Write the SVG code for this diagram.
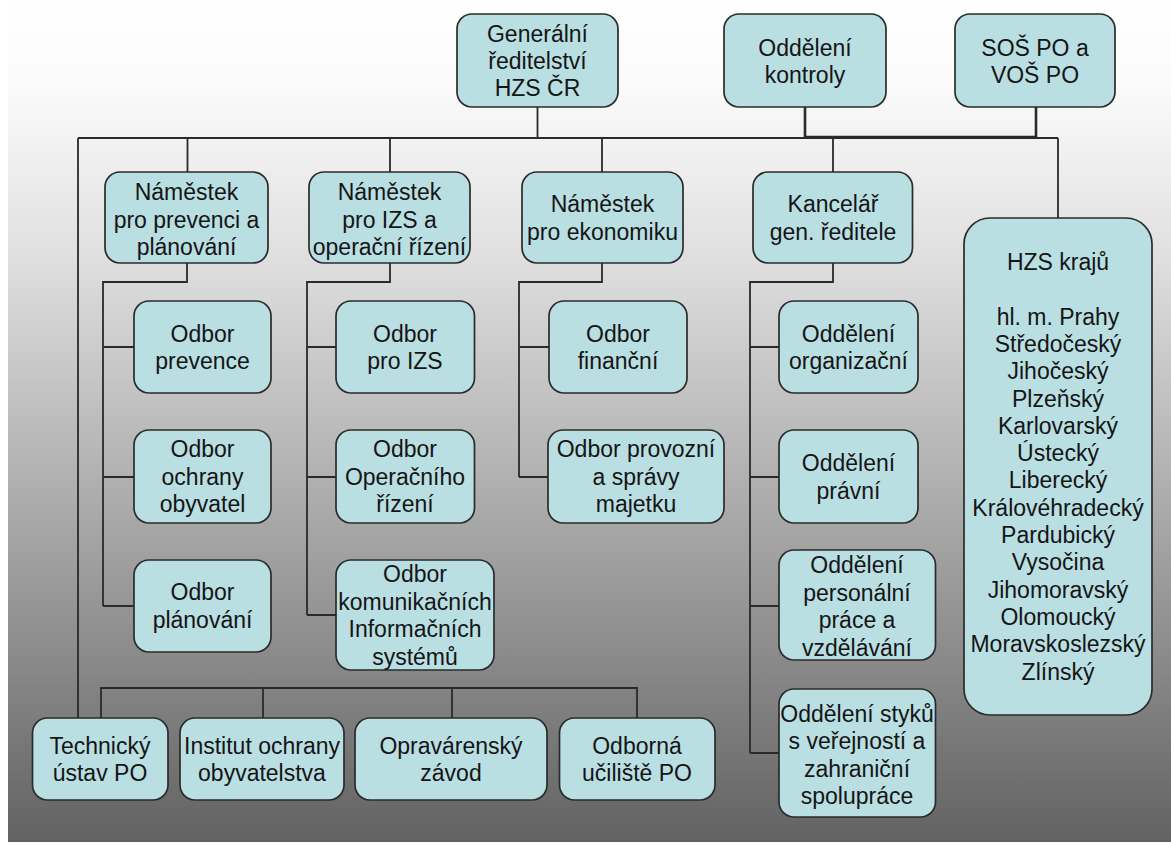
<svg xmlns="http://www.w3.org/2000/svg" width="1171" height="843" viewBox="0 0 1171 843">
<defs>
<linearGradient id="bg" x1="0" y1="0" x2="0" y2="1">
<stop offset="0" stop-color="#ffffff"/>
<stop offset="0.1" stop-color="#fbfbfb"/>
<stop offset="0.3" stop-color="#e0e0e0"/>
<stop offset="0.65" stop-color="#a2a2a2"/>
<stop offset="1" stop-color="#626262"/>
</linearGradient>
<style>
.box{fill:#b9dfe3;stroke:#2b2b2b;stroke-width:1.7}
.t{font-family:"Liberation Sans",Arial,sans-serif;font-size:23px;fill:#151515;text-anchor:middle}
.c{fill:none;stroke:#2a2a2a;stroke-width:1.8}
</style>
</defs>
<rect x="0" y="0" width="1171" height="843" fill="#ffffff"/>
<rect x="8" y="0" width="1163" height="842" fill="url(#bg)"/>

<g id="connectors" class="c">
<path d="M537.5 107V138"/>
<path d="M78 138H1058"/>
<path d="M78 138V718"/>
<path d="M187.5 138V172M390 138V172M602 138V172M833 138V172"/>
<path d="M1058 138V218"/>
<path d="M805 107V137H1036V107" style="stroke-width:2.6"/>
<path d="M187 263V282H103V606M103 347H134M103 477H134M103 606H134"/>
<path d="M390 263V282H307V615M307 347H336M307 477H336M307 615H336"/>
<path d="M602 263V282H519V477M519 347H549M519 477H548"/>
<path d="M833 263V282H750V753M750 347H779M750 477H779M750 606H779M750 753H779"/>
<path d="M101 718V688H637V718M263 688V718M452 688V718"/>
</g>

<g id="n-generalni"><rect class="box" x="457" y="14" width="161" height="93" rx="15"/>
<text class="t" x="537.5"><tspan x="537.5" y="41.5">Generální</tspan><tspan x="537.5" y="68.5">ředitelství</tspan><tspan x="537.5" y="96">HZS ČR</tspan></text></g>

<g id="n-kontroly"><rect class="box" x="724" y="14" width="162" height="93" rx="15"/>
<text class="t"><tspan x="805" y="55.5">Oddělení</tspan><tspan x="805" y="83">kontroly</tspan></text></g>

<g id="n-sos"><rect class="box" x="955" y="14" width="160" height="93" rx="15"/>
<text class="t"><tspan x="1035" y="55.5">SOŠ PO a</tspan><tspan x="1035" y="83">VOŠ PO</tspan></text></g>

<g id="n-nam1"><rect class="box" x="105" y="172" width="163" height="91" rx="15"/>
<text class="t"><tspan x="186.5" y="200">Náměstek</tspan><tspan x="186.5" y="227.5">pro prevenci a</tspan><tspan x="186.5" y="255">plánování</tspan></text></g>

<g id="n-nam2"><rect class="box" x="309" y="172" width="161" height="91" rx="15"/>
<text class="t"><tspan x="389.5" y="200">Náměstek</tspan><tspan x="389.5" y="227.5">pro IZS a</tspan><tspan x="389.5" y="255">operační řízení</tspan></text></g>

<g id="n-nam3"><rect class="box" x="522" y="172" width="161" height="91" rx="15"/>
<text class="t"><tspan x="602.5" y="212">Náměstek</tspan><tspan x="602.5" y="239.5">pro ekonomiku</tspan></text></g>

<g id="n-kancelar"><rect class="box" x="753" y="172" width="159.5" height="91" rx="15"/>
<text class="t"><tspan x="833" y="212">Kancelář</tspan><tspan x="833" y="239.5">gen. ředitele</tspan></text></g>

<g id="n-hzs"><rect class="box" x="964" y="218" width="188" height="497" rx="26"/>
<text class="t"><tspan x="1058" y="270">HZS krajů</tspan><tspan x="1058" y="324.6">hl. m. Prahy</tspan><tspan x="1058" y="351.9">Středočeský</tspan><tspan x="1058" y="379.2">Jihočeský</tspan><tspan x="1058" y="406.5">Plzeňský</tspan><tspan x="1058" y="433.8">Karlovarský</tspan><tspan x="1058" y="461.1">Ústecký</tspan><tspan x="1058" y="488.4">Liberecký</tspan><tspan x="1058" y="515.7">Královéhradecký</tspan><tspan x="1058" y="543">Pardubický</tspan><tspan x="1058" y="570.3">Vysočina</tspan><tspan x="1058" y="597.6">Jihomoravský</tspan><tspan x="1058" y="624.9">Olomoucký</tspan><tspan x="1058" y="652.2">Moravskoslezský</tspan><tspan x="1058" y="679.5">Zlínský</tspan></text></g>

<g id="n-prevence"><rect class="box" x="134" y="301" width="137" height="92" rx="15"/>
<text class="t"><tspan x="202.5" y="341.5">Odbor</tspan><tspan x="202.5" y="369">prevence</tspan></text></g>

<g id="n-ochrany"><rect class="box" x="134" y="430" width="137" height="93" rx="15"/>
<text class="t"><tspan x="202.5" y="457">Odbor</tspan><tspan x="202.5" y="484.5">ochrany</tspan><tspan x="202.5" y="512">obyvatel</tspan></text></g>

<g id="n-planovani"><rect class="box" x="134" y="560" width="137" height="92" rx="15"/>
<text class="t"><tspan x="202.5" y="600">Odbor</tspan><tspan x="202.5" y="627.5">plánování</tspan></text></g>

<g id="n-izs"><rect class="box" x="336" y="301" width="138.5" height="92" rx="15"/>
<text class="t"><tspan x="405" y="341.5">Odbor</tspan><tspan x="405" y="369">pro IZS</tspan></text></g>

<g id="n-operacni"><rect class="box" x="336" y="430" width="138.5" height="93" rx="15"/>
<text class="t"><tspan x="405" y="457">Odbor</tspan><tspan x="405" y="484.5">Operačního</tspan><tspan x="405" y="512">řízení</tspan></text></g>

<g id="n-komunikacni"><rect class="box" x="336" y="560" width="158" height="110" rx="15"/>
<text class="t"><tspan x="415" y="582">Odbor</tspan><tspan x="415" y="609.5">komunikačních</tspan><tspan x="415" y="637">Informačních</tspan><tspan x="415" y="664.5">systémů</tspan></text></g>

<g id="n-financni"><rect class="box" x="549" y="301" width="138" height="92" rx="15"/>
<text class="t"><tspan x="618" y="341.5">Odbor</tspan><tspan x="618" y="369">finanční</tspan></text></g>

<g id="n-provozni"><rect class="box" x="548" y="430" width="176" height="93" rx="15"/>
<text class="t"><tspan x="636" y="457">Odbor provozní</tspan><tspan x="636" y="484.5">a správy</tspan><tspan x="636" y="512">majetku</tspan></text></g>

<g id="n-organizacni"><rect class="box" x="779" y="301" width="139" height="92" rx="15"/>
<text class="t"><tspan x="848.5" y="341.5">Oddělení</tspan><tspan x="848.5" y="369">organizační</tspan></text></g>

<g id="n-pravni"><rect class="box" x="779" y="430" width="139" height="93" rx="15"/>
<text class="t"><tspan x="848.5" y="471">Oddělení</tspan><tspan x="848.5" y="498.5">právní</tspan></text></g>

<g id="n-personalni"><rect class="box" x="779" y="550" width="156.5" height="110" rx="15"/>
<text class="t"><tspan x="857" y="573">Oddělení</tspan><tspan x="857" y="600.5">personální</tspan><tspan x="857" y="628">práce a</tspan><tspan x="857" y="655.5">vzdělávání</tspan></text></g>

<g id="n-styky"><rect class="box" x="779" y="689" width="156.5" height="128" rx="15"/>
<text class="t"><tspan x="857" y="721.5">Oddělení styků</tspan><tspan x="857" y="749">s veřejností a</tspan><tspan x="857" y="776.5">zahraniční</tspan><tspan x="857" y="804">spolupráce</tspan></text></g>

<g id="n-technicky"><rect class="box" x="32.5" y="718" width="135.5" height="82" rx="15"/>
<text class="t"><tspan x="100" y="753.5">Technický</tspan><tspan x="100" y="781">ústav PO</tspan></text></g>

<g id="n-institut"><rect class="box" x="180" y="718" width="164" height="82" rx="15"/>
<text class="t"><tspan x="262" y="753.5">Institut ochrany</tspan><tspan x="262" y="781">obyvatelstva</tspan></text></g>

<g id="n-opravarensky"><rect class="box" x="355" y="718" width="192" height="82" rx="15"/>
<text class="t"><tspan x="451" y="753.5">Opravárenský</tspan><tspan x="451" y="781">závod</tspan></text></g>

<g id="n-odborna"><rect class="box" x="559.5" y="718" width="155.5" height="82" rx="15"/>
<text class="t"><tspan x="637" y="753.5">Odborná</tspan><tspan x="637" y="781">učiliště PO</tspan></text></g>
</svg>
